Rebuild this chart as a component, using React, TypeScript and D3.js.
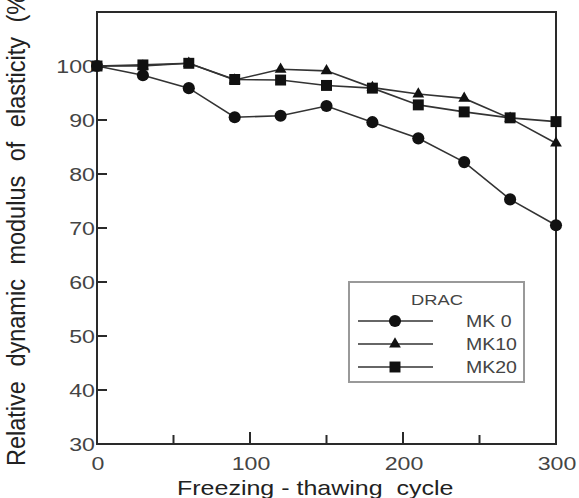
import { useEffect, useRef } from "react";
import * as d3 from "d3";

const cycles = [0, 30, 60, 90, 120, 150, 180, 210, 240, 270, 300];
const mk0 = [100, 98.3, 95.9, 90.5, 90.8, 92.6, 89.6, 86.6, 82.2, 75.3, 70.5];
const mk10 = [100, 100, 100.5, 97.4, 99.4, 99.1, 96, 94.8, 94, 90.3, 85.7];
const mk20 = [100, 100.2, 100.5, 97.5, 97.4, 96.4, 95.9, 92.8, 91.5, 90.4, 89.7];
const seriesNames = ["MK 0", "MK10", "MK20"];
const yTicks = [30, 40, 50, 60, 70, 80, 90, 100];
const xMajor = [0, 100, 200, 300];
const xMinor = [50, 150, 250];

const FONT = "'Liberation Sans', Arial, sans-serif";
const SX = 1.22; // the scanned figure is a bit wider than tall

function App() {
  const svgRef = useRef<SVGSVGElement | null>(null);

  useEffect(() => {
    if (!svgRef.current) return;
    const width = 579;
    const height = 498;
    const margin = { top: 12, right: 23, bottom: 54, left: 97 };

    const svg = d3.select(svgRef.current).attr("width", width).attr("height", height);
    svg.selectAll("*").remove();

    const x = d3.scaleLinear().domain([0, 300]).range([margin.left, width - margin.right]);
    const y = d3.scaleLinear().domain([30, 110]).range([height - margin.bottom, margin.top]);

    const lineColor = "#333";

    // frame
    svg
      .append("rect")
      .attr("x", x(0))
      .attr("y", y(110))
      .attr("width", x(300) - x(0))
      .attr("height", y(30) - y(110))
      .attr("fill", "none")
      .attr("stroke", "#2a2a2a")
      .attr("stroke-width", 2);

    // y ticks (inward)
    svg
      .selectAll(".ytick")
      .data(yTicks)
      .enter()
      .append("line")
      .attr("x1", x(0))
      .attr("x2", x(0) + 10)
      .attr("y1", (d) => y(d))
      .attr("y2", (d) => y(d))
      .attr("stroke", "#2a2a2a")
      .attr("stroke-width", 2);

    svg
      .selectAll(".ylab")
      .data(yTicks)
      .enter()
      .append("text")
      .attr("transform", (d) => `translate(${x(0) - 2},${y(d)}) scale(${SX},1)`)
      .attr("dy", "0.36em")
      .attr("text-anchor", "end")
      .attr("font-family", FONT)
      .attr("font-size", 19)
      .attr("fill", "#444")
      .text((d) => d);

    // x ticks (inward)
    svg
      .selectAll(".xmaj")
      .data(xMajor)
      .enter()
      .append("line")
      .attr("x1", (d) => x(d))
      .attr("x2", (d) => x(d))
      .attr("y1", y(30))
      .attr("y2", y(30) - 12)
      .attr("stroke", "#2a2a2a")
      .attr("stroke-width", 2);
    svg
      .selectAll(".xmin")
      .data(xMinor)
      .enter()
      .append("line")
      .attr("x1", (d) => x(d))
      .attr("x2", (d) => x(d))
      .attr("y1", y(30))
      .attr("y2", y(30) - 9)
      .attr("stroke", "#2a2a2a")
      .attr("stroke-width", 2);

    svg
      .selectAll(".xlab")
      .data(xMajor)
      .enter()
      .append("text")
      .attr("transform", (d) => `translate(${x(d) + 1},${y(30) + 26}) scale(${SX},1)`)
      .attr("text-anchor", "middle")
      .attr("font-family", FONT)
      .attr("font-size", 19)
      .attr("fill", "#444")
      .text((d) => d);

    // axis titles
    svg
      .append("text")
      .attr("transform", `translate(177,495) scale(${SX},1)`)
      .attr("text-anchor", "start")
      .attr("font-family", FONT)
      .attr("font-size", 20.5)
      .attr("fill", "#222")
      .style("white-space", "pre")
      .text("Freezing - thawing  cycle");

    svg
      .append("text")
      .attr("transform", "translate(25,466) scale(1.07,1) rotate(-90)")
      .attr("text-anchor", "start")
      .attr("font-family", FONT)
      .attr("font-size", 23.5)
      .attr("fill", "#222")
      .attr("word-spacing", 8)
      .text("Relative dynamic modulus of elasticity (%)");

    const series = [mk0, mk10, mk20];
    const line = d3
      .line<number>()
      .x((_, i) => x(cycles[i]))
      .y((d) => y(d));

    const symbols = [d3.symbolCircle, d3.symbolTriangle, d3.symbolSquare];
    const sizes = [115, 60, 120];

    series.forEach((vals, si) => {
      svg
        .append("path")
        .datum(vals)
        .attr("d", line)
        .attr("fill", "none")
        .attr("stroke", lineColor)
        .attr("stroke-width", 1.6);
      svg
        .selectAll(`.pt${si}`)
        .data(vals)
        .enter()
        .append("path")
        .attr("transform", (d, i) => `translate(${x(cycles[i])},${y(d)})`)
        .attr("d", d3.symbol().type(symbols[si]).size(sizes[si])())
        .attr("fill", "#111");
    });

    // legend
    const lg = svg.append("g").attr("transform", "translate(349,282)");
    lg.append("rect")
      .attr("width", 175)
      .attr("height", 100)
      .attr("fill", "white")
      .attr("stroke", "#999")
      .attr("stroke-width", 2);
    lg.append("text")
      .attr("transform", `translate(88,23) scale(${SX},1)`)
      .attr("text-anchor", "middle")
      .attr("font-family", FONT)
      .attr("font-size", 15)
      .attr("fill", "#444")
      .text("DRAC");
    seriesNames.forEach((name, i) => {
      const ly = 39 + i * 23;
      lg.append("line")
        .attr("x1", 9)
        .attr("x2", 84)
        .attr("y1", ly)
        .attr("y2", ly)
        .attr("stroke", lineColor)
        .attr("stroke-width", 1.4);
      lg.append("path")
        .attr("transform", `translate(46,${ly})`)
        .attr("d", d3.symbol().type(symbols[i]).size(sizes[i])())
        .attr("fill", "#111");
      lg.append("text")
        .attr("transform", `translate(117,${ly}) scale(${SX},1)`)
        .attr("dy", "0.36em")
        .attr("font-family", FONT)
        .attr("font-size", 16)
        .attr("fill", "#444")
        .text(name);
    });
  }, []);

  return (
    <svg
      ref={svgRef}
      style={{ position: "absolute", left: 0, top: 0, background: "white" }}
    ></svg>
  );
}

export default App;
